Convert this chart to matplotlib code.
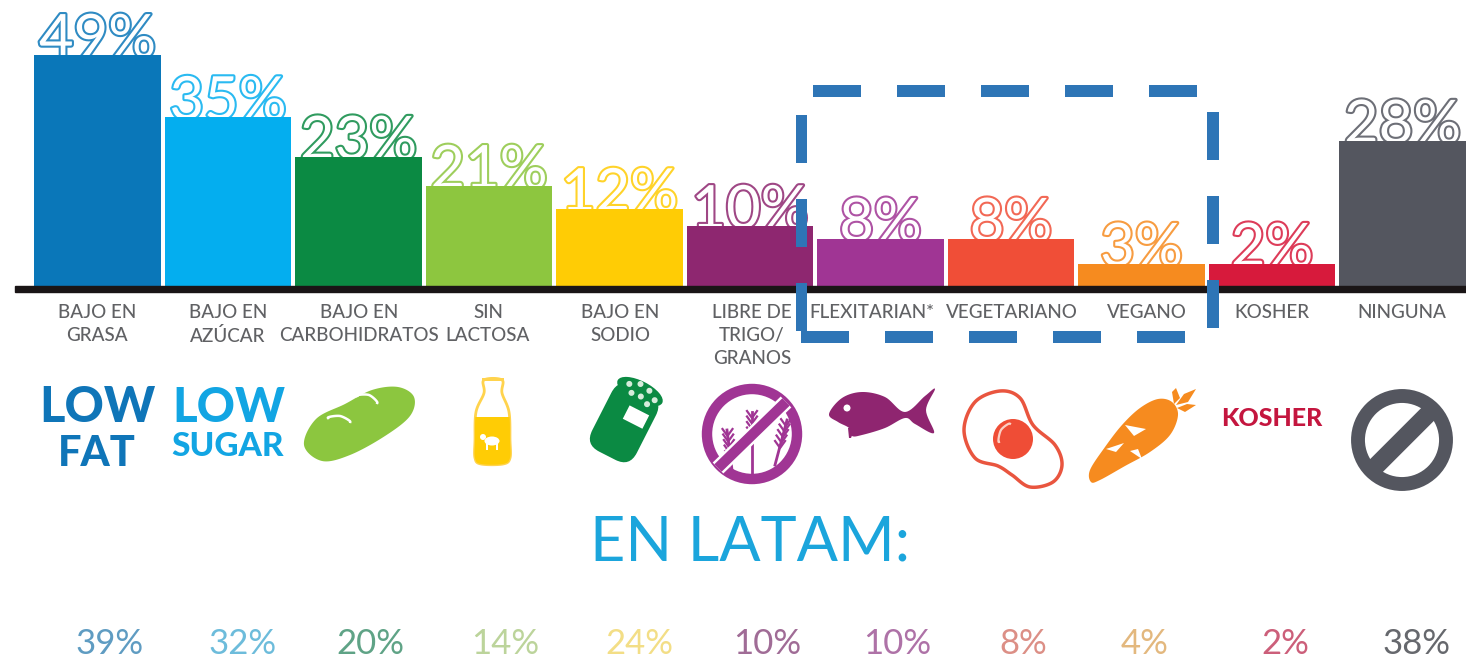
import numpy as np
import matplotlib
matplotlib.use("Agg")
import matplotlib.pyplot as plt
import matplotlib.patheffects as pe
from matplotlib.patches import Circle, Ellipse, Polygon, Rectangle, FancyBboxPatch
from matplotlib.transforms import Affine2D

plt.rcParams["font.family"] = ["Lato", "DejaVu Sans"]

# Data
categories = ["BAJO EN\nGRASA", "BAJO EN\nAZÚCAR", "BAJO EN\nCARBOHIDRATOS", "SIN\nLACTOSA",
              "BAJO EN\nSODIO", "LIBRE DE\nTRIGO/\nGRANOS", "FLEXITARIAN*", "VEGETARIANO",
              "VEGANO", "KOSHER", "NINGUNA"]
global_labels = ["49%", "35%", "23%", "21%", "12%", "10%", "8%", "8%", "3%", "2%", "28%"]
# the drawn bars are not proportional to their labels, these are the drawn heights
bar_heights = [49.0, 35.8, 27.4, 21.2, 16.3, 12.7, 10.0, 10.0, 4.7, 4.7, 30.8]
latam_labels = ["39%", "32%", "20%", "14%", "24%", "10%", "10%", "8%", "4%", "2%", "38%"]
bar_colors = ["#0a77b9", "#04aeef", "#0b8a43", "#8dc63f", "#ffcc05", "#8e2770",
              "#a03594", "#f04e37", "#f68b1f", "#d71a3c", "#54565f"]
latam_colors = ["#5f9cc2", "#6dbcdb", "#5fa386", "#bcd49b", "#f3de86", "#a06c96",
                "#ae72a7", "#dc8f86", "#e3b87e", "#cc5f7a", "#66686d"]

fig = plt.figure(figsize=(14.66, 6.6), dpi=100)

# Bars live in their own axes, category 0 centre at 97.5 px, 130.5 px pitch, baseline at y=286
ax = fig.add_axes([0, 1 - 286 / 660, 1, 286 / 660])
ax.set_xlim(-97.5 / 130.5, (1466 - 97.5) / 130.5)
ax.set_ylim(0, 286 * 49 / 231)
ax.axis("off")
x = np.arange(len(categories))
for i in x:
    ax.text(i, bar_heights[i] - 0.4, global_labels[i], ha="center", va="baseline", fontsize=43,
            fontweight="normal", color="white", zorder=1, clip_on=False,
            path_effects=[pe.withStroke(linewidth=3.0, foreground=bar_colors[i], alpha=0.85)])
ax.bar(x, bar_heights, width=0.97, color=bar_colors, zorder=2)

# Everything else in pixel coordinates
px = fig.add_axes([0, 0, 1, 1])
px.set_xlim(0, 1466)
px.set_ylim(660, 0)
px.axis("off")
px.patch.set_alpha(0)

px.add_patch(Rectangle((15, 286), 1451, 6, color="#1a1516", zorder=3))

# category labels
label_x = [97, 228, 359, 488, 620, 752, 872, 1012, 1147, 1272, 1402]
for xp, lab, in zip(label_x, categories):
    for k, line in enumerate(lab.split("\n")):
        px.text(xp, 312 + 23.5 * k, line, ha="center", va="center", fontsize=13.6,
                fontweight="medium", color="#606164")


def smooth(points, closed=True, n=16):
    # Catmull-Rom through the points, for the icon outlines
    p = np.array(points, dtype=float)
    out = []
    m = len(p)
    rng = range(m) if closed else range(m - 1)
    for i in rng:
        p0, p1, p2, p3 = p[(i - 1) % m], p[i], p[(i + 1) % m], p[(i + 2) % m]
        for t in np.linspace(0, 1, n, endpoint=False):
            out.append(0.5 * (2 * p1 + (p2 - p0) * t + (2 * p0 - 5 * p1 + 4 * p2 - p3) * t ** 2
                              + (3 * p1 - p0 - 3 * p2 + p3) * t ** 3))
    return np.array(out)


# LOW FAT / LOW SUGAR / KOSHER wordmarks
px.text(97, 408, "LOW", ha="center", va="center", fontsize=35, fontweight="black", color="#0f75b8")
px.text(97, 454, "FAT", ha="center", va="center", fontsize=30, fontweight="black", color="#0f75b8")
px.text(229, 408, "LOW", ha="center", va="center", fontsize=34, fontweight="black", color="#12a5e3")
px.text(228, 447, "SUGAR", ha="center", va="center", fontsize=24, fontweight="black", color="#12a5e3")
px.text(1272, 418, "KOSHER", ha="center", va="center", fontsize=18, fontweight="black", color="#c4163f")

# bread
px.add_patch(Polygon(smooth([(304, 445), (316, 419), (345, 404), (372, 390), (398, 387), (414, 397),
                             (410, 416), (385, 436), (350, 455), (322, 461)]),
                     closed=True, color="#8cc63f", lw=0))
px.plot(*smooth([(357, 396), (369, 395), (377, 403)], closed=False).T, color="white", lw=1.8)
px.plot(*smooth([(328, 418), (340, 416), (350, 422)], closed=False).T, color="white", lw=1.8)

# milk bottle
bottle = smooth([(484, 380), (484, 393), (476, 412), (475, 440), (475, 458), (481, 464), (503, 464),
                 (510, 458), (510, 440), (509, 412), (502, 393), (502, 380)])
px.add_patch(Polygon(bottle, closed=True, facecolor="white", edgecolor="#ffd34d", lw=2))
clip = Rectangle((470, 417), 45, 50, transform=px.transData)
fill = Polygon(bottle, closed=True, color="#ffcc05", lw=0)
px.add_patch(fill)
fill.set_clip_path(clip)
px.add_patch(Rectangle((482, 378), 22, 3, color="#ffd34d", lw=0))
px.add_patch(Ellipse((492, 441), 15, 9, color="white", lw=0))
px.add_patch(Rectangle((486, 441), 2, 9, color="white", lw=0))
px.add_patch(Rectangle((496, 441), 2, 9, color="white", lw=0))
px.add_patch(Circle((483, 437), 3, color="white", lw=0))

# salt shaker
rot = Affine2D().rotate_deg_around(625, 421, 27) + px.transData
px.add_patch(FancyBboxPatch((600, 386), 50, 74, boxstyle="round,pad=0,rounding_size=16",
                            color="#0b8a43", lw=0, transform=rot))
px.add_patch(Ellipse((625, 388), 50, 21, color="#0b8a43", lw=0, transform=rot))
for hx, hy in [(612, 386), (622, 381), (633, 383), (642, 389), (618, 393), (628, 392), (637, 396)]:
    px.add_patch(Circle((hx, hy), 3, color="#d6ecdb", lw=0, transform=rot))
px.add_patch(Rectangle((622, 405), 22, 15, color="white", lw=0, transform=rot))

# grain free sign
px.add_patch(Circle((752, 434), 45, facecolor="none", edgecolor="#a03594", lw=7.5))
for gx, gtop, gbot, lean in [(732, 430, 470, -5), (752, 412, 475, 0), (775, 420, 465, 12)]:
    px.plot([gx + lean, gx], [gtop, gbot], color="#a03594", lw=2)
    for t in np.linspace(gtop + 4, gtop + 26, 5):
        off = lean * (t - gtop) / (gbot - gtop)
        px.plot([gx + lean - off - 5, gx + lean - off, gx + lean - off + 5], [t - 5, t + 2, t - 5],
                color="#a03594", lw=1.6)
px.plot([786, 718], [402, 468], color="white", lw=11, solid_capstyle="butt")
px.plot([786, 718], [402, 468], color="#a03594", lw=7.5, solid_capstyle="butt")

# fish
px.add_patch(Polygon(smooth([(829, 414), (842, 398), (862, 392), (885, 397), (905, 412), (925, 396),
                             (935, 389), (926, 410), (934, 433), (915, 424), (905, 418), (885, 428),
                             (862, 435), (852, 436), (849, 428), (838, 422)], n=10),
                     closed=True, color="#8f2570", lw=0))
px.add_patch(Polygon([(848, 428), (855, 428), (851, 438), (849, 438)], closed=True, color="#8f2570", lw=0))
px.add_patch(Circle((847, 408), 3.5, color="white", lw=0))

# fried egg
px.add_patch(Polygon(smooth([(964, 430), (975, 402), (1000, 391), (1020, 398), (1033, 425), (1055, 445),
                             (1062, 465), (1053, 482), (1030, 487), (1012, 475), (998, 466), (975, 458)]),
                     closed=True, facecolor="white", edgecolor="#e9553f", lw=2.5))
px.add_patch(Circle((1013, 439), 20, color="#ef4d36", lw=0))
px.plot(*smooth([(999, 442), (1001, 430), (1010, 424)], closed=False).T, color="#fbd0c4", lw=1.6)

# carrot
px.add_patch(Polygon(smooth([(1091, 482), (1090, 470), (1105, 447), (1122, 425), (1140, 408), (1158, 399),
                             (1172, 402), (1178, 415), (1170, 435), (1150, 452), (1125, 466), (1100, 480)]),
                     closed=True, color="#f68b1f", lw=0))
for notch in [[(1106, 449), (1124, 443), (1116, 452)], [(1125, 425), (1146, 429), (1134, 436)],
              [(1142, 459), (1130, 451), (1138, 449)]]:
    px.add_patch(Polygon(notch, closed=True, color="white", lw=0))
for leaf in [[(1174, 404), (1172, 392), (1176, 388), (1180, 398)],
             [(1176, 405), (1184, 394), (1196, 389), (1188, 402)],
             [(1177, 408), (1187, 404), (1196, 405), (1185, 412)]]:
    px.add_patch(Polygon(leaf, closed=True, color="#f68b1f", lw=0))

# no symbol
px.add_patch(Circle((1402, 440), 44, facecolor="none", edgecolor="#54565f", lw=10))
px.plot([1432, 1372], [410, 470], color="#54565f", lw=13, solid_capstyle="butt")

# dashed highlight box, drawn by hand because the dashes do not line up at the corners
box_blue = "#2e75b6"
for x0 in [813, 897, 981, 1065, 1149]:
    px.add_patch(Rectangle((x0, 85), 48, 12, color=box_blue, lw=0, zorder=5))
for x0 in [801, 885, 969, 1053, 1137]:
    px.add_patch(Rectangle((x0, 331), 48, 12, color=box_blue, lw=0, zorder=5))
for y0 in [115, 199, 283]:
    px.add_patch(Rectangle((796, y0), 11, 48, color=box_blue, lw=0, zorder=5))
for y0 in [112, 196, 280]:
    px.add_patch(Rectangle((1207, y0), 11.5, 48, color=box_blue, lw=0, zorder=5))

# LATAM row
px.text(750, 543, "EN LATAM:", ha="center", va="center", fontsize=44, color="#1ba5dc")
latam_x = [110, 243, 370, 505, 639, 767, 897, 1023, 1145, 1285, 1416]
for xp, lab, col in zip(latam_x, latam_labels, latam_colors):
    px.text(xp, 644, lab, ha="center", va="center", fontsize=25, fontweight="normal", color=col)

fig.savefig("out.png", dpi=100)
